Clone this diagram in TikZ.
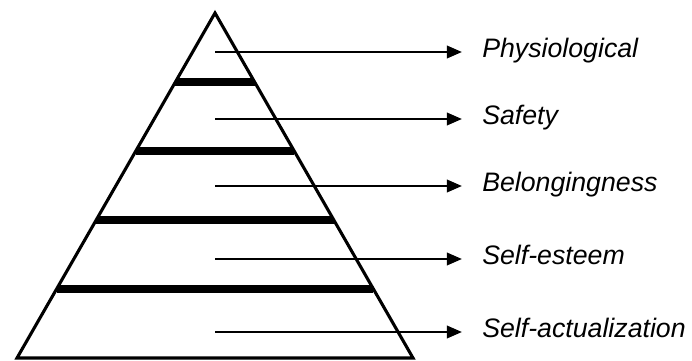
\documentclass[tikz,border=0pt]{standalone}
\usepackage{fontspec}
\setmainfont{Liberation Sans}
\usetikzlibrary{calc, arrows.meta}

\begin{document}
\begin{tikzpicture}[>={Triangle[length=0.38cm, width=0.31cm]}, font=\fontsize{19}{22}\selectfont\itshape]
\tikzset{
  pyramid/.style={line width=2.2pt, line join=miter},
  level bar/.style={line width=5.8pt},
  need arrow/.style={->, line width=1.9pt, shorten >=0.5cm},
  need/.style={anchor=west, inner sep=0pt, text height=0.72em, text depth=0pt}
}
\useasboundingbox (0,0) rectangle (17.3,9.0);
% pyramid outline
\coordinate (apex) at (5.375,8.675);
\coordinate (bl) at (0.425,0.05);
\coordinate (br) at (10.325,0.05);
\draw[pyramid] (bl) -- (apex) -- (br) -- cycle;
% thick bars between the levels
\begin{scope}
\clip (bl) -- (apex) -- (br) -- cycle;
\foreach \t in {0.2,0.4,0.6,0.8}
  \draw[level bar] ($(apex)!\t!(bl)$) -- ($(apex)!\t!(br)$);
\end{scope}
% needs
\foreach \y/\name/\txt in {7.7/phys/Physiological, 6.025/safety/Safety,
  4.35/belong/Belongingness, 2.525/esteem/Self-esteem, 0.7/selfact/Self-actualization}
{
  \coordinate (\name-s) at (5.375,\y);
  \node[need] (\name) at (12.05,\y) {\txt};
  \draw[need arrow] (\name-s) -- (\name);
}
\end{tikzpicture}
\end{document}
